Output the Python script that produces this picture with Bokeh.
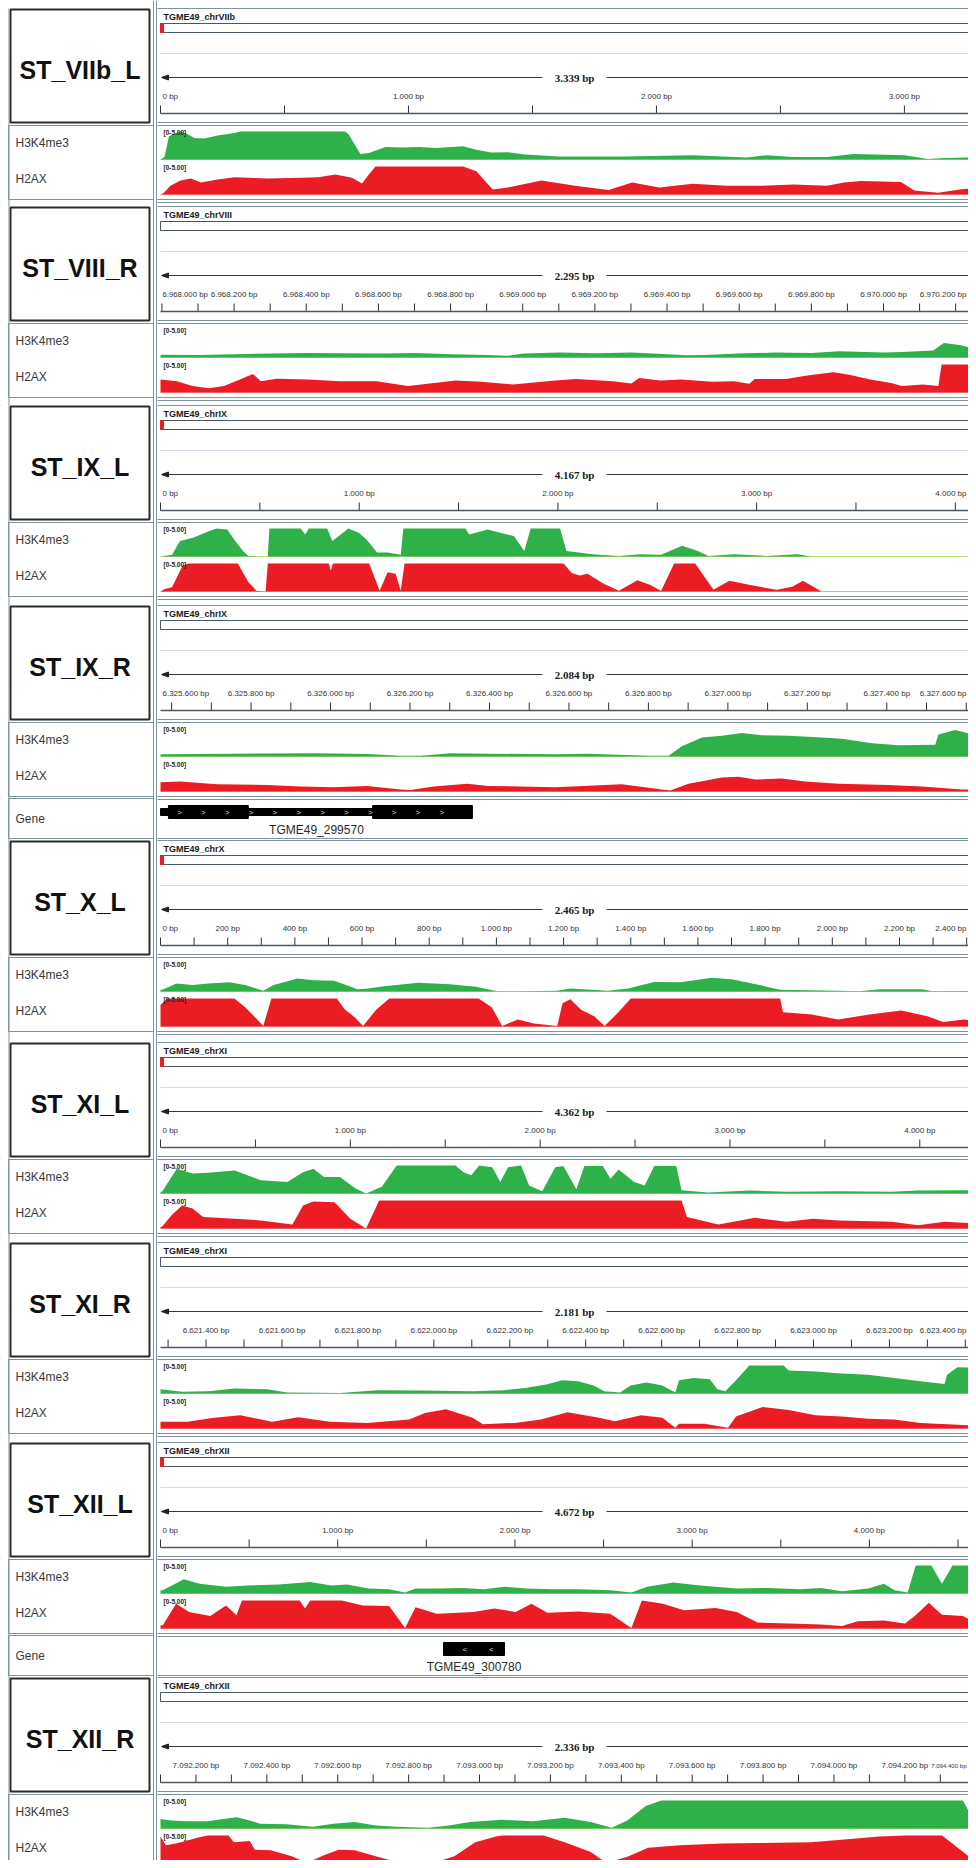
import numpy as np
from bokeh.plotting import figure
from bokeh.models import Range1d
from bokeh.core.properties import value
from bokeh.embed import file_html
from bokeh.resources import INLINE

# ---------------- data ----------------
panel_labels = ["ST_VIIb_L", "ST_VIII_R", "ST_IX_L", "ST_IX_R", "ST_X_L",
                "ST_XI_L", "ST_XI_R", "ST_XII_L", "ST_XII_R"]
chrom_names = ["TGME49_chrVIIb", "TGME49_chrVIII", "TGME49_chrIX", "TGME49_chrIX",
               "TGME49_chrX", "TGME49_chrXI", "TGME49_chrXI", "TGME49_chrXII", "TGME49_chrXII"]
view_start = [0, 6967996, 0, 6325572, 0, 0, 6621280, 0, 7092100]
view_span = [3339, 2295, 4167, 2084, 2465, 4362, 2181, 4672, 2336]
tick_step = [500, 100, 500, 100, 100, 500, 100, 500, 100]
tick_labels_bp = [
    [0, 1000, 2000, 3000],
    [6968000, 6968200, 6968400, 6968600, 6968800, 6969000, 6969200, 6969400,
     6969600, 6969800, 6970000, 6970200],
    [0, 1000, 2000, 3000, 4000],
    [6325600, 6325800, 6326000, 6326200, 6326400, 6326600, 6326800, 6327000,
     6327200, 6327400, 6327600],
    [0, 200, 400, 600, 800, 1000, 1200, 1400, 1600, 1800, 2000, 2200, 2400],
    [0, 1000, 2000, 3000, 4000],
    [6621400, 6621600, 6621800, 6622000, 6622200, 6622400, 6622600, 6622800,
     6623000, 6623200, 6623400],
    [0, 1000, 2000, 3000, 4000],
    [7092200, 7092400, 7092600, 7092800, 7093000, 7093200, 7093400, 7093600,
     7093800, 7094000, 7094200, 7094400],
]
track_names = ["H3K4me3", "H2AX"]
data_range_label = "[0-5.00]"
DATA_MAX = 5.0

# coverage tracks: positions are bp offsets from the view start, values in 0-5
h3_pos_1 = [0, 16, 34, 54, 81, 108, 136, 176, 230, 298, 325, 745, 759, 806, 840, 908, 976, 1043, 1111, 1220, 1274, 1333, 1401, 1469, 1604, 1875, 2146, 2363, 2444, 2553, 2688, 2796, 3000, 3095, 3162, 3317, 3339]
h3_val_1 = [0, 0.45, 4.15, 4.55, 5.0, 4.55, 3.85, 3.75, 4.3, 4.75, 5.0, 5.0, 4.45, 1.0, 1.15, 2.25, 2.15, 2.25, 2.05, 2.35, 1.75, 1.25, 1.3, 0.9, 0.55, 0.55, 0.75, 0.35, 0.75, 0.45, 0.45, 1.0, 0.75, 0.1, 0.25, 0.45, 0.45]
ax_pos_1 = [0, 13, 40, 81, 122, 163, 230, 298, 434, 569, 637, 705, 772, 813, 840, 867, 1220, 1274, 1314, 1340, 1401, 1536, 1672, 1807, 1902, 2011, 2146, 2282, 2417, 2553, 2688, 2756, 2824, 2986, 3040, 3135, 3230, 3317, 3339]
ax_val_1 = [0, 0.25, 1.55, 2.5, 2.85, 2.15, 2.7, 3.1, 2.85, 3.0, 3.1, 3.55, 3.0, 1.95, 3.55, 5.0, 5.0, 4.15, 2.15, 0.9, 1.25, 2.5, 1.55, 0.8, 2.15, 1.25, 1.9, 1.55, 1.55, 1.8, 1.55, 2.15, 2.4, 2.25, 0.7, 0.3, 0.95, 1.25, 1.25]

h3_pos_2 = [0, 4, 106, 205, 307, 406, 507, 606, 708, 807, 907, 963, 1006, 1108, 1207, 1305, 1407, 1458, 1509, 1603, 1705, 1804, 1880, 2004, 2055, 2142, 2171, 2215, 2266, 2295]
h3_val_2 = [0.5, 0.5, 0.45, 0.6, 0.7, 0.8, 0.75, 0.7, 0.8, 0.6, 0.45, 0.3, 0.7, 0.9, 0.75, 0.9, 0.6, 0.4, 0.45, 0.7, 0.9, 0.8, 1.1, 0.9, 1.0, 1.25, 2.6, 2.25, 1.4, 1.25]
ax_pos_2 = [0, 45, 89, 133, 176, 220, 256, 278, 322, 409, 497, 599, 686, 759, 817, 890, 977, 1094, 1152, 1254, 1305, 1327, 1385, 1443, 1530, 1589, 1632, 1647, 1734, 1792, 1865, 1909, 1967, 2025, 2055, 2113, 2156, 2165, 2295]
ax_val_2 = [2.3, 2.0, 1.15, 0.75, 1.15, 2.3, 3.3, 2.0, 2.45, 2.3, 2.0, 2.0, 1.15, 1.7, 2.15, 1.9, 1.45, 2.15, 2.4, 2.0, 1.6, 2.6, 2.15, 2.3, 1.9, 2.0, 1.55, 2.4, 2.4, 3.05, 3.6, 3.15, 2.3, 1.7, 1.15, 1.45, 1.15, 5.0, 5.0]

h3_pos_3 = [0, 58, 98, 164, 243, 283, 336, 376, 415, 442, 500, 540, 548, 706, 728, 746, 839, 865, 945, 998, 1037, 1090, 1143, 1209, 1222, 1535, 1553, 1646, 1778, 1831, 1863, 2011, 2043, 2175, 2307, 2413, 2519, 2625, 2704, 2757, 2889, 3048, 3207, 3273, 4167]
h3_val_3 = [0, 0.3, 2.75, 3.35, 4.5, 5.0, 4.8, 2.75, 1.0, 0.1, 0, 0, 5.0, 5.0, 3.95, 5.0, 5.0, 2.75, 5.0, 4.25, 3.05, 0.7, 0.7, 0.3, 5.0, 5.0, 3.95, 4.8, 3.65, 1.0, 5.0, 5.0, 1.0, 0.4, 0.1, 0.4, 0.3, 1.9, 1.0, 0.1, 0.4, 0.1, 0.4, 0, 0]
ax_pos_3 = [0, 19, 58, 111, 138, 389, 442, 482, 529, 540, 847, 857, 868, 1050, 1103, 1143, 1183, 1209, 1228, 2029, 2069, 2109, 2149, 2228, 2307, 2400, 2466, 2519, 2585, 2691, 2783, 2863, 2968, 3101, 3180, 3233, 3326, 4167]
ax_val_3 = [0, 0.4, 0.75, 4.6, 5.0, 5.0, 1.7, 0.15, 0, 5.0, 5.0, 3.75, 5.0, 5.0, 0.15, 3.45, 3.15, 0.15, 5.0, 5.0, 3.3, 2.85, 3.15, 1.45, 0.15, 2.0, 1.15, 0.1, 5.0, 5.0, 0.3, 1.9, 1.15, 0.3, 0.85, 1.9, 0, 0]

h3_pos_4 = [0, 184, 394, 520, 604, 654, 730, 826, 994, 1077, 1228, 1279, 1312, 1363, 1413, 1463, 1514, 1581, 1665, 1715, 1791, 1858, 1950, 1958, 2000, 2042, 2054, 2084]
h3_val_4 = [0.4, 0.5, 0.6, 0.45, 0.15, 0.15, 0.6, 0.5, 0.4, 0.5, 0.15, 0.15, 1.85, 3.4, 3.7, 4.2, 3.8, 3.7, 3.4, 3.15, 2.35, 2.0, 2.1, 3.95, 4.75, 3.95, 5.0, 5.0]
ax_pos_4 = [0, 50, 143, 268, 352, 436, 520, 604, 629, 688, 772, 826, 994, 1161, 1262, 1283, 1329, 1413, 1455, 1497, 1564, 1623, 1707, 1832, 1916, 2017, 2084]
ax_val_4 = [1.65, 1.8, 1.3, 1.15, 0.9, 0.75, 1.0, 0.35, 0.25, 0.9, 1.4, 1.0, 0.75, 1.3, 0.35, 0.2, 1.4, 2.5, 2.65, 2.15, 2.3, 1.8, 1.4, 1.15, 0.9, 0.35, 0.35]

h3_pos_5 = [0, 5, 48, 95, 142, 205, 252, 306, 337, 408, 455, 517, 587, 611, 673, 767, 861, 939, 1002, 1080, 1181, 1220, 1283, 1330, 1392, 1470, 1548, 1642, 1705, 1783, 1845, 2017, 2080, 2142, 2267, 2298, 2423, 2465]
h3_val_5 = [0.3, 0.3, 1.45, 1.15, 1.45, 1.65, 1.15, 0.15, 1.15, 2.3, 2.0, 1.9, 0.4, 0.5, 1.0, 1.55, 1.3, 0.85, 0.05, 0.05, 0.15, 0.55, 0.3, 0.15, 0.55, 1.7, 1.65, 2.45, 2.15, 1.15, 0.3, 0.15, 0.05, 0.4, 0.4, 0.05, 0.1, 0.1]
ax_pos_5 = [0, 20, 220, 252, 283, 306, 330, 525, 548, 580, 603, 642, 681, 947, 986, 1017, 1064, 1111, 1181, 1197, 1220, 1252, 1291, 1322, 1361, 1400, 1845, 1853, 1939, 2017, 2111, 2205, 2283, 2330, 2392, 2436, 2465]
ax_val_5 = [3.85, 5.0, 5.0, 3.45, 1.55, 0.1, 5.0, 5.0, 3.1, 1.55, 0.1, 3.0, 5.0, 5.0, 3.45, 0.1, 1.25, 0.55, 0.1, 4.15, 4.85, 3.0, 1.85, 0.1, 2.4, 5.0, 5.0, 2.55, 2.15, 1.25, 2.15, 2.85, 1.85, 0.8, 1.25, 1.0, 1.0]

h3_pos_6 = [0, 8, 86, 169, 252, 391, 529, 668, 751, 806, 861, 945, 1028, 1083, 1166, 1244, 1554, 1596, 1637, 1679, 1748, 1790, 1831, 1900, 1942, 2011, 2080, 2122, 2191, 2233, 2330, 2371, 2413, 2496, 2551, 2601, 2717, 2745, 2884, 3105, 3299, 3576, 3853, 3992, 4318, 4362]
h3_val_6 = [0.3, 0.3, 4.4, 3.55, 3.7, 4.1, 2.35, 2.05, 3.8, 4.4, 2.95, 2.95, 0.9, 0, 1.2, 5.0, 5.0, 3.8, 3.25, 5.0, 4.7, 2.05, 4.7, 5.0, 1.45, 0.4, 4.7, 4.9, 0.75, 4.9, 4.9, 2.65, 4.3, 2.05, 1.45, 4.9, 4.9, 0.6, 0.2, 0.55, 0.3, 0.4, 0.3, 0.55, 0.6, 0.6]
ax_pos_6 = [0, 8, 58, 114, 169, 224, 391, 529, 695, 751, 806, 917, 1000, 1083, 1152, 2745, 2773, 2939, 3133, 3299, 3438, 3576, 3853, 3992, 4130, 4318, 4362]
ax_val_6 = [0.3, 0.3, 2.35, 4.1, 3.55, 2.05, 1.75, 1.45, 0.7, 4.1, 4.8, 4.7, 1.75, 0, 5.0, 5.0, 2.05, 0.7, 1.9, 1.2, 1.75, 1.45, 1.2, 0.6, 1.2, 0.9, 0.9]

h3_pos_7 = [0, 57, 127, 196, 280, 335, 474, 571, 683, 822, 905, 961, 1016, 1058, 1100, 1141, 1169, 1211, 1238, 1280, 1322, 1356, 1366, 1405, 1447, 1467, 1488, 1516, 1551, 1641, 1655, 1725, 1794, 1864, 1933, 2002, 2065, 2072, 2099, 2166, 2181]
h3_val_7 = [0.75, 0.3, 0.4, 0.9, 0.75, 0.2, 0.1, 0.6, 0.55, 0.4, 0.6, 1.0, 1.6, 2.35, 2.2, 1.45, 0.4, 0.2, 1.45, 1.95, 1.45, 0.2, 2.35, 2.75, 2.55, 0.75, 0.4, 2.35, 5.0, 5.0, 4.1, 3.95, 3.55, 3.35, 2.75, 2.2, 1.7, 3.35, 4.7, 4.55, 4.55]
ax_pos_7 = [0, 71, 141, 210, 294, 363, 447, 544, 655, 697, 752, 822, 849, 933, 1002, 1072, 1155, 1197, 1266, 1322, 1356, 1366, 1433, 1495, 1516, 1586, 1655, 1725, 1794, 1864, 1933, 2002, 2072, 2166, 2181]
ax_val_7 = [1.2, 1.2, 1.9, 2.35, 1.2, 2.0, 1.2, 1.0, 1.6, 2.75, 3.45, 1.9, 0.75, 1.0, 1.6, 2.9, 1.9, 1.3, 2.35, 1.9, 0.15, 0.85, 0.85, 0.15, 2.15, 3.85, 3.3, 2.35, 2.15, 1.75, 1.6, 1.0, 0.75, 0.45, 0.45]

h3_pos_8 = [0, 13, 132, 221, 370, 489, 667, 845, 964, 1053, 1172, 1290, 1380, 1439, 1558, 1706, 1825, 1944, 2063, 2211, 2360, 2538, 2657, 2746, 2894, 3043, 3251, 3429, 3607, 3726, 3845, 3994, 4082, 4142, 4216, 4261, 4350, 4409, 4469, 4587, 4632, 4672]
h3_val_8 = [0.6, 0.6, 2.55, 1.75, 1.2, 1.45, 1.6, 2.05, 1.45, 1.6, 0.9, 0.75, 0.2, 0.9, 0.9, 1.0, 0.75, 1.2, 0.9, 0.75, 0.75, 0.6, 0.2, 1.2, 1.95, 1.45, 0.9, 1.0, 0.75, 1.0, 0.4, 0.9, 1.75, 0.6, 0.2, 5.0, 5.0, 1.75, 5.0, 5.0, 0.2, 0.2]
ax_pos_8 = [0, 13, 88, 162, 281, 370, 429, 459, 786, 815, 845, 1023, 1142, 1290, 1380, 1439, 1558, 1766, 1885, 2004, 2093, 2183, 2360, 2538, 2657, 2716, 2835, 2954, 3132, 3251, 3369, 3548, 3726, 3845, 3935, 4082, 4201, 4261, 4335, 4409, 4528, 4641, 4672]
ax_val_8 = [0.6, 0.6, 4.4, 2.95, 2.25, 4.1, 2.35, 5.0, 5.0, 3.55, 5.0, 5.0, 4.1, 4.0, 0.1, 3.8, 2.65, 2.95, 3.55, 2.95, 4.4, 2.8, 3.05, 2.65, 0.1, 5.0, 4.4, 3.25, 3.65, 2.95, 1.05, 0.9, 0.7, 0.45, 1.3, 1.45, 0.9, 2.35, 4.6, 2.45, 2.25, 0.3, 0.3]

h3_pos_9 = [0, 30, 74, 133, 178, 215, 252, 281, 355, 429, 488, 548, 607, 666, 755, 814, 873, 962, 1051, 1140, 1214, 1273, 1317, 1369, 1413, 2264, 2306, 2336]
h3_val_9 = [1.7, 1.45, 1.3, 1.3, 1.7, 2.0, 1.45, 0.85, 0.75, 0.3, 0.85, 1.15, 0.55, 0.3, 0.15, 0.55, 1.15, 1.55, 1.3, 1.9, 1.15, 0.15, 1.45, 4.0, 5.0, 5.0, 0, 0]
ax_pos_9 = [0, 15, 44, 104, 133, 192, 207, 252, 266, 311, 370, 414, 459, 503, 548, 607, 666, 770, 829, 888, 947, 962, 1081, 1140, 1214, 1258, 1317, 1376, 1465, 1584, 1688, 1836, 1954, 2028, 2102, 2205, 2294, 2306, 2336]
ax_val_9 = [4.8, 3.25, 3.55, 4.6, 5.0, 5.0, 3.8, 4.0, 2.45, 2.35, 1.3, 0.1, 1.45, 2.45, 2.35, 1.3, 0.3, 0.1, 1.3, 3.8, 4.8, 5.0, 5.0, 3.8, 2.05, 0.1, 1.2, 2.8, 3.25, 3.55, 3.65, 3.8, 4.4, 4.8, 5.0, 5.0, 0.6, 0.1, 0.1]

h3_pos = [h3_pos_1, h3_pos_2, h3_pos_3, h3_pos_4, h3_pos_5, h3_pos_6, h3_pos_7, h3_pos_8, h3_pos_9]
h3_val = [h3_val_1, h3_val_2, h3_val_3, h3_val_4, h3_val_5, h3_val_6, h3_val_7, h3_val_8, h3_val_9]
ax_pos = [ax_pos_1, ax_pos_2, ax_pos_3, ax_pos_4, ax_pos_5, ax_pos_6, ax_pos_7, ax_pos_8, ax_pos_9]
ax_val = [ax_val_1, ax_val_2, ax_val_3, ax_val_4, ax_val_5, ax_val_6, ax_val_7, ax_val_8, ax_val_9]

# genes (bp offsets from view start)
gene_panel = [3, 7]
gene_names = ["TGME49_299570", "TGME49_300780"]
gene_strand = [">", "<"]
gene_thick = [[(20, 221), (534, 785)], [(1597, 1941)]]
gene_thin = [[(0, 20), (221, 534)], []]
gene_chevron_step = [60, 150]

# ---------------- layout / style ----------------
PX0, PY0 = 0, 0
FIG_W, FIG_H = 968, 1860
X0 = 160          # left edge of data panel (px)
W_TRACK = 828     # data panel width (px)
panel_top = [8, 206, 405, 605, 840, 1042, 1242, 1442, 1677]
gene_row_top = [797, 1634]
GENE_ROW_H = 43
GREEN = "#2fb14a"
RED = "#ec1c24"
DARK = "#4a5862"
MID = "#7f939d"
FONT = value("Liberation Sans")
RIGHT = PX0 + FIG_W + 20
TEXT_RIGHT = PX0 + FIG_W - 2
TICK_FS = 8.0

p = figure(width=FIG_W, height=FIG_H,
           x_range=Range1d(PX0, PX0 + FIG_W), y_range=Range1d(PY0 + FIG_H, PY0),
           output_backend="svg", toolbar_location=None,
           x_axis_type=None, y_axis_type=None, min_border=0)
p.outline_line_color = None
p.background_fill_color = "white"
p.border_fill_color = "white"


def add_x_range(i):
    k = W_TRACK / view_span[i]
    s = view_start[i]
    name = f"x{i}"
    p.extra_x_ranges[name] = Range1d(s - (X0 - PX0) / k, s + (PX0 + FIG_W - X0) / k)
    return name


def add_y_range(name, y_top, y_base):
    ppu = (y_base - y_top) / DATA_MAX
    p.extra_y_ranges[name] = Range1d(-(PY0 + FIG_H - y_base) / ppu, (y_base - PY0) / ppu)
    return name


def fmt_bp(v):
    return f"{v:,}".replace(",", ".") + " bp"


CHAR_W = {".": 0.278, " ": 0.278}


def text_w(t, size):
    return sum(CHAR_W.get(c, 0.556) for c in t) * size


def tick_text(x, y, t, size, align, xr=None):
    kw = dict(text_font=FONT, text_font_size=value(f"{size:.2f}px"), text_color="#333333",
              text_align=align, text_baseline="middle")
    if xr:
        kw["x_range_name"] = xr
    p.text(x=[x], y=[y], text=[t], **kw)


for i in range(9):
    T = panel_top[i]
    xr = add_x_range(i)
    s, L = view_start[i], view_span[i]
    k = W_TRACK / L

    # ---- header: chromosome name + ideogram
    p.text(x=[X0 + 3], y=[T + 8], text=[chrom_names[i]], text_font=FONT,
           text_font_size=value("9px"), text_font_style="bold", text_color="#1a1a1a",
           text_align="left", text_baseline="middle")
    p.quad(left=[X0], right=[RIGHT], top=[T + 15], bottom=[T + 24],
           fill_color="white", line_color=DARK, line_width=1)
    if s == 0:
        p.quad(left=[X0], right=[X0 + 3], top=[T + 15], bottom=[T + 24],
               fill_color=RED, line_color=RED)
    p.segment(x0=[X0], x1=[RIGHT], y0=[T + 45], y1=[T + 45], line_color="#cfdce8", line_width=1)

    # ---- span arrow with label
    cx = X0 + W_TRACK / 2
    p.segment(x0=[X0 + 2, cx + 32], x1=[cx - 32, RIGHT], y0=[T + 69, T + 69], y1=[T + 69, T + 69],
              line_color="#3a3a3a", line_width=1)
    p.patch(x=[X0 + 1, X0 + 8, X0 + 8], y=[T + 69, T + 66.5, T + 71.5], color="#222222")
    p.text(x=[s + L / 2], y=[T + 69], text=[fmt_bp(L)], x_range_name=xr,
           text_font=value("Liberation Serif"), text_font_size=value("11px"),
           text_font_style="bold", text_color="#1a1a1a", text_align="center",
           text_baseline="middle")

    # ---- ruler ticks and labels
    step = tick_step[i]
    tpos = np.arange(int(np.ceil(s / step)) * step, s + L + step, step)
    p.segment(x0=tpos, x1=tpos, y0=[T + 97] * len(tpos), y1=[T + 105] * len(tpos),
              x_range_name=xr, line_color="#333333", line_width=1)
    # labels that would run past the panel edges are kept whole: nudged inside and,
    # if needed, shrunk so that they do not collide with their neighbour
    labs = tick_labels_bp[i]
    centers = [X0 + (v - s) * k for v in labs]
    for j, v in enumerate(labs):
        t = fmt_bp(v)
        w = text_w(t, TICK_FS)
        px = centers[j]
        if px - w / 2 < X0 + 1:
            nxt_left = centers[j + 1] - text_w(fmt_bp(labs[j + 1]), TICK_FS) / 2
            avail = nxt_left - 3 - (X0 + 2)
            fs = min(TICK_FS, TICK_FS * avail / w)
            tick_text(X0 + 2, T + 88, t, fs, "left")
        elif px + w / 2 > TEXT_RIGHT:
            prv_right = centers[j - 1] + text_w(fmt_bp(labs[j - 1]), TICK_FS) / 2
            avail = TEXT_RIGHT - (prv_right + 3)
            fs = min(TICK_FS, TICK_FS * avail / w)
            tick_text(TEXT_RIGHT, T + 88, t, fs, "right")
        else:
            tick_text(v, T + 88, t, TICK_FS, "center", xr)
    p.segment(x0=[X0], x1=[RIGHT], y0=[T + 105], y1=[T + 105], line_color=DARK, line_width=1.5)

    # ---- coverage tracks
    specs = [(h3_pos[i], h3_val[i], GREEN, "#b9dc6e", T + 123, T + 151),
             (ax_pos[i], ax_val[i], RED, "#f5a3a3", T + 158, T + 186)]
    for kk, (pos, val, col, bcol, ytop, ybase) in enumerate(specs):
        yr = add_y_range(f"y{i}_{kk}", ytop, ybase)
        xs = np.array(pos, dtype=float) + s
        p.line(x=[s, s + L], y=[0, 0], x_range_name=xr, y_range_name=yr,
               line_color=bcol, line_width=1)
        p.varea(x=xs, y1=np.zeros(len(xs)), y2=np.array(val, dtype=float),
                x_range_name=xr, y_range_name=yr, fill_color=col)
        p.text(x=[X0 + 3], y=[ytop + 1], text=[data_range_label], text_font=FONT,
               text_font_size=value("6.5px"), text_font_style="bold", text_color="#222222",
               text_align="left", text_baseline="middle")

# ---- gene rows (data side)
for g in range(len(gene_panel)):
    i = gene_panel[g]
    xr = f"x{i}"
    s = view_start[i]
    R = gene_row_top[g]
    for (a, b) in gene_thin[g]:
        p.quad(left=[s + a], right=[s + b], top=[R + 11], bottom=[R + 18],
               x_range_name=xr, fill_color="black", line_color="black")
    for (a, b) in gene_thick[g]:
        p.quad(left=[s + a], right=[s + b], top=[R + 8], bottom=[R + 21],
               x_range_name=xr, fill_color="black", line_color="black")
    g0 = min(a for a, b in gene_thick[g] + gene_thin[g])
    g1 = max(b for a, b in gene_thick[g] + gene_thin[g])
    chev = np.arange(g0 + gene_chevron_step[g] * 0.8, g1 - 20, gene_chevron_step[g]) + s
    p.text(x=chev, y=[R + 14.5] * len(chev), text=[gene_strand[g]] * len(chev),
           x_range_name=xr, text_font=FONT, text_font_size=value("8px"),
           text_color="#d8d8e8", text_align="center", text_baseline="middle")
    p.text(x=[s + (g0 + g1) / 2], y=[R + 32], text=[gene_names[g]], x_range_name=xr,
           text_font=FONT, text_font_size=value("12px"), text_color="#2a2a2a",
           text_align="center", text_baseline="middle")

# ---- horizontal separators across the whole width
hy = []
for T in panel_top:
    hy += [T, T + 114, T + 117, T + 191, T + 194]
for R in gene_row_top:
    hy += [R + GENE_ROW_H - 2]
p.segment(x0=[PX0] * len(hy), x1=[RIGHT] * len(hy), y0=hy, y1=hy, line_color=MID, line_width=1)

# ---- left column
p.quad(left=[PX0], right=[157], top=[PY0], bottom=[PY0 + FIG_H], fill_color="white", line_color=None)
for i, T in enumerate(panel_top):
    p.quad(left=[8], right=[153], top=[T + 117], bottom=[T + 191],
           fill_color="white", line_color=MID, line_width=1)
    p.quad(left=[10], right=[149], top=[T + 1], bottom=[T + 114],
           fill_color="white", line_color="#2b2b2b", line_width=2)
    p.text(x=[79.5], y=[T + 61], text=[panel_labels[i]], text_font=FONT,
           text_font_size=value("25px"), text_font_style="bold", text_color="#111111",
           text_align="center", text_baseline="middle")
    p.text(x=[15, 15], y=[T + 134, T + 170], text=track_names, text_font=FONT,
           text_font_size=value("12px"), text_color="#3a3a3a",
           text_align="left", text_baseline="middle")
for g, R in enumerate(gene_row_top):
    p.quad(left=[8], right=[153], top=[R + 1], bottom=[R + GENE_ROW_H - 2],
           fill_color="white", line_color=MID, line_width=1)
    p.text(x=[15], y=[R + 21], text=["Gene"], text_font=FONT,
           text_font_size=value("12px"), text_color="#3a3a3a",
           text_align="left", text_baseline="middle")

# vertical separators
p.segment(x0=[153, 156], x1=[153, 156], y0=[PY0, PY0], y1=[PY0 + FIG_H] * 2,
          line_color=MID, line_width=1)
p.segment(x0=[8.5], x1=[8.5], y0=[8], y1=[PY0 + FIG_H], line_color=MID, line_width=1)

open("out.html", "w").write(file_html(p, INLINE))
